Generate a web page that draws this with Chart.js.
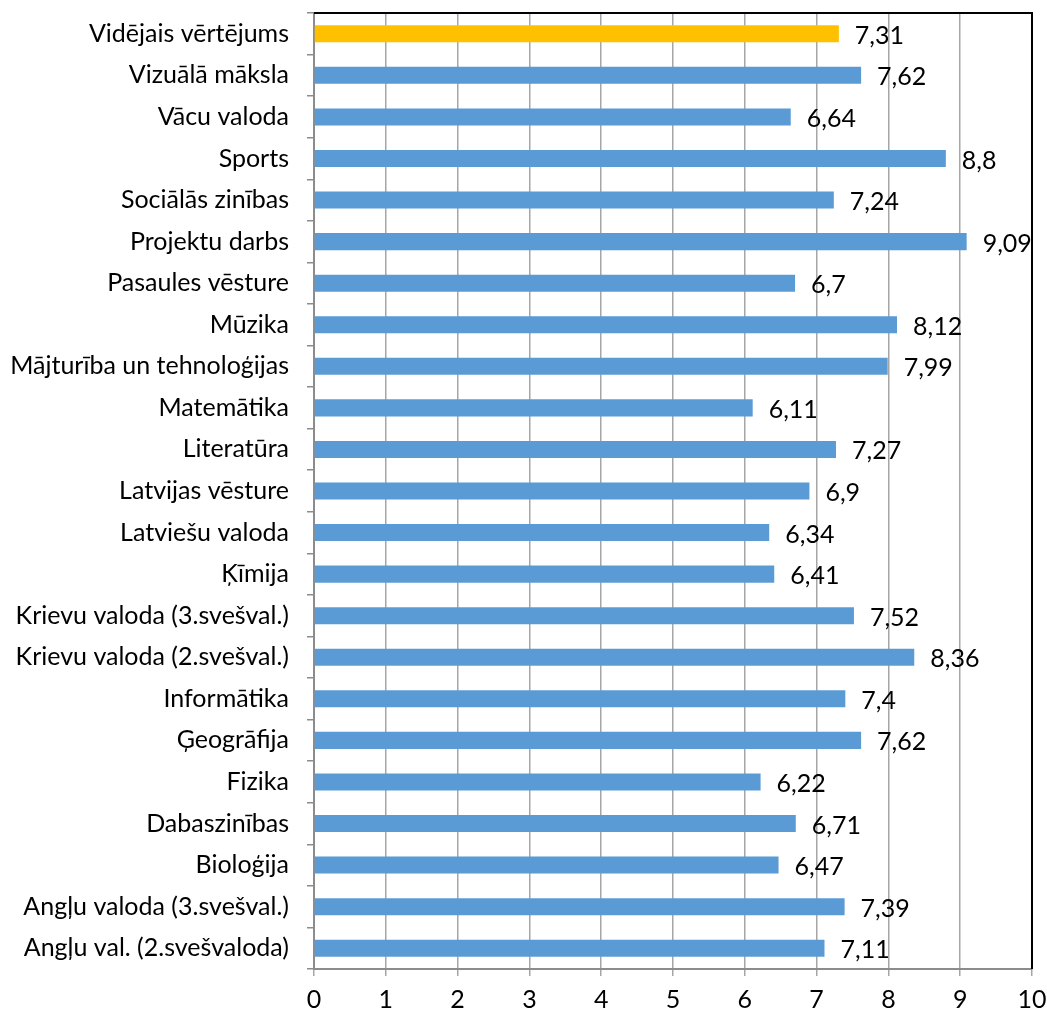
<!DOCTYPE html>
<html>
<head>
<meta charset="utf-8">
<script src="https://cdn.jsdelivr.net/npm/chart.js@4/dist/chart.umd.min.js"></script>
<style>
html,body{margin:0;padding:0;background:#fff;}
#wrap{width:1047px;height:1014px;position:relative;}
</style>
</head>
<body>
<div id="wrap"><canvas id="c" width="1047" height="1014"></canvas></div>
<script>
const categories = [
  "Vidējais vērtējums",
  "Vizuālā māksla",
  "Vācu valoda",
  "Sports",
  "Sociālās zinības",
  "Projektu darbs",
  "Pasaules vēsture",
  "Mūzika",
  "Mājturība un tehnoloģijas",
  "Matemātika",
  "Literatūra",
  "Latvijas vēsture",
  "Latviešu valoda",
  "Ķīmija",
  "Krievu valoda (3.svešval.)",
  "Krievu valoda (2.svešval.)",
  "Informātika",
  "Ģeogrāfija",
  "Fizika",
  "Dabaszinības",
  "Bioloģija",
  "Angļu valoda (3.svešval.)",
  "Angļu val. (2.svešvaloda)"
];
const values = [7.31, 7.62, 6.64, 8.8, 7.24, 9.09, 6.7, 8.12, 7.99, 6.11, 7.27, 6.9, 6.34, 6.41, 7.52, 8.36, 7.4, 7.62, 6.22, 6.71, 6.47, 7.39, 7.11];
const xTicks = [0,1,2,3,4,5,6,7,8,9,10];
const averageColor = "#FFC000";
const barColor = "#5B9BD5";

const FONT = "Lato, 'Open Sans', sans-serif";

const labelPlugin = {
  id: 'valueLabels',
  afterDatasetsDraw(chart) {
    const ctx = chart.ctx;
    const meta = chart.getDatasetMeta(0);
    ctx.save();
    ctx.font = "25px " + FONT;
    ctx.fillStyle = "#000";
    ctx.textAlign = "left";
    ctx.textBaseline = "middle";
    meta.data.forEach((el, i) => {
      const txt = String(values[i]).replace('.', ',');
      ctx.fillText(txt, el.x + 16, el.y + 2);
    });
    ctx.restore();
  }
};

const borderPlugin = {
  id: 'topRightBorder',
  afterDraw(chart) {
    const a = chart.chartArea;
    const ctx = chart.ctx;
    ctx.save();
    ctx.strokeStyle = "#000";
    ctx.lineWidth = 2;
    ctx.beginPath();
    ctx.moveTo(a.left, a.top);
    ctx.lineTo(a.right, a.top);
    ctx.lineTo(a.right, a.bottom);
    ctx.stroke();
    ctx.restore();
  }
};

new Chart(document.getElementById('c'), {
  type: 'bar',
  data: {
    labels: categories,
    datasets: [{
      data: values,
      backgroundColor: values.map((v, i) => i === 0 ? averageColor : barColor),
      borderWidth: 0,
      categoryPercentage: 1,
      barPercentage: 0.41
    }]
  },
  options: {
    indexAxis: 'y',
    responsive: false,
    animation: false,
    devicePixelRatio: 1,
    layout: { padding: { top: 13, right: 15, left: 0, bottom: 0 } },
    plugins: { legend: { display: false }, tooltip: { enabled: false } },
    scales: {
      x: {
        min: 0, max: 10,
        afterBuildTicks(scale) { scale.ticks = xTicks.map(v => ({ value: v })); },
        afterFit(scale) { scale.height = 45; scale.paddingLeft = 0; scale.paddingRight = 0; },
        ticks: { color: "#000", font: { size: 25, family: FONT }, padding: 9, maxRotation: 0 },
        grid: { color: "#A6A6A6", lineWidth: 1.5, tickLength: 7, drawTicks: true },
        border: { color: "#8C8C8C", width: 2 }
      },
      y: {
        afterFit(scale) { scale.width = 314; scale.paddingTop = 0; scale.paddingBottom = 0; },
        ticks: { color: "#000", font: { size: 25, family: FONT }, padding: 18, autoSkip: false },
        grid: { display: true, drawOnChartArea: false, drawTicks: true, tickLength: 7, color: "#8C8C8C", lineWidth: 1.5, offset: true },
        border: { color: "#8C8C8C", width: 2 }
      }
    }
  },
  plugins: [labelPlugin, borderPlugin]
});
</script>
</body>
</html>
